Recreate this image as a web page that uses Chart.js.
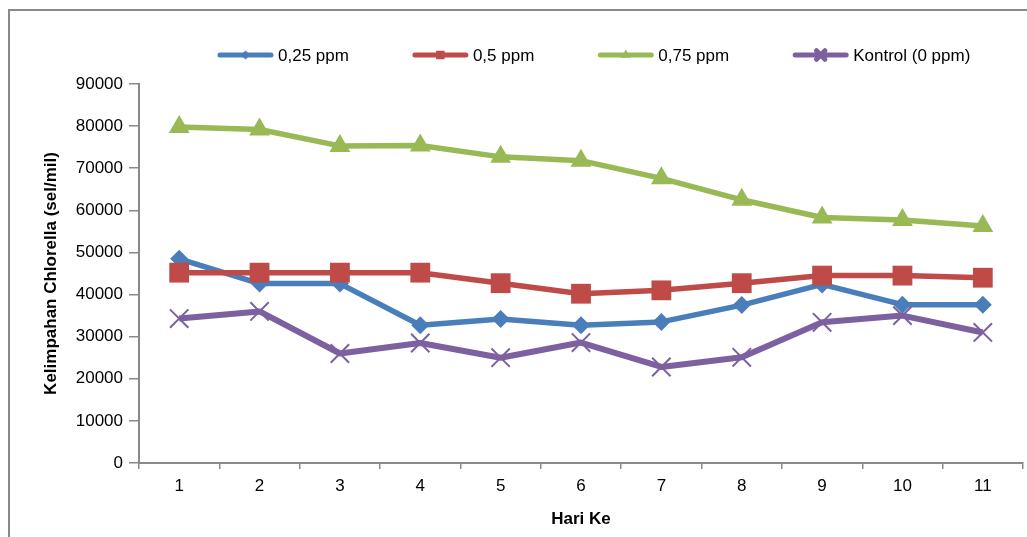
<!DOCTYPE html>
<html>
<head>
<meta charset="utf-8">
<script src="https://cdn.jsdelivr.net/npm/chart.js@4/dist/chart.umd.min.js"></script>
<style>
  html, body { margin: 0; padding: 0; background: #fff; overflow: hidden; }
  #wrap { position: relative; width: 1027px; height: 537px; }
  #frame {
    position: absolute; left: 8px; top: 9px; width: 1200px; height: 700px;
    border-left: 2px solid #898989; border-top: 2px solid #898989;
    pointer-events: none;
  }
  canvas { position: absolute; left: 0; top: 0; }
</style>
</head>
<body>
<div id="wrap">
  <canvas id="c" width="1027" height="537"></canvas>
  <div id="frame"></div>
</div>
<script>
// Hari ke-1 .. ke-11
const days = ['1', '2', '3', '4', '5', '6', '7', '8', '9', '10', '11'];

// Kelimpahan Chlorella (sel/mil) per perlakuan
const ppm025 = [48500, 42600, 42600, 32700, 34200, 32700, 33500, 37500, 42400, 37600, 37600];
const ppm05 = [45200, 45200, 45200, 45200, 42700, 40200, 41000, 42700, 44500, 44500, 44000];
const ppm075 = [79800, 79200, 75300, 75400, 72700, 71800, 67600, 62500, 58300, 57700, 56300];
const kontrol = [34300, 36000, 26000, 28500, 25000, 28600, 22800, 25100, 33400, 35000, 31000];

const seriesLabels = ['0,25 ppm', '0,5 ppm', '0,75 ppm', 'Kontrol (0 ppm)'];

// y-axis tick range
const yMin = 0;
const yMax = 90000;
const yStep = 10000;

const FONT = '"Liberation Sans", Arial, sans-serif';
const AXIS_GRAY = '#898989';

// Legend row: line with a small marker, then the label
const legendPlugin = {
  id: 'rowLegend',
  afterDraw(chart) {
    const ctx = chart.ctx;
    const y = 55;
    let x = 218;
    ctx.save();
    ctx.font = '17px ' + FONT;
    ctx.textBaseline = 'middle';
    ctx.textAlign = 'left';
    chart.data.datasets.forEach((ds) => {
      ctx.strokeStyle = ds.borderColor;
      ctx.lineWidth = 5;
      ctx.lineCap = 'round';
      ctx.beginPath();
      ctx.moveTo(x + 2, y);
      ctx.lineTo(x + 53, y);
      ctx.stroke();
      ctx.fillStyle = ds.pointBackgroundColor;
      ctx.strokeStyle = ds.pointBorderColor;
      Chart.helpers.drawPoint(ctx, {
        pointStyle: ds.pointStyle,
        radius: ds.legendRadius,
        borderWidth: ds.legendBorder,
        rotation: 0
      }, x + 27.5, y);
      ctx.fillStyle = '#000';
      ctx.fillText(ds.label, x + 60, y + 1);
      x += 60 + ctx.measureText(ds.label).width + 64;
    });
    ctx.restore();
  }
};

const data = {
  labels: days,
  datasets: [
    {
      label: seriesLabels[0], data: ppm025,
      borderColor: '#4A7EBB', backgroundColor: '#4A7EBB',
      pointBackgroundColor: '#4A7EBB', pointBorderColor: '#4A7EBB',
      pointStyle: 'rectRot', pointRadius: 9, pointBorderWidth: 0,
      legendRadius: 4.5, legendBorder: 0,
      borderWidth: 5.5, order: 4
    },
    {
      label: seriesLabels[1], data: ppm05,
      borderColor: '#BE4B48', backgroundColor: '#BE4B48',
      pointBackgroundColor: '#BE4B48', pointBorderColor: '#BE4B48',
      pointStyle: 'rect', pointRadius: 14, pointBorderWidth: 0,
      legendRadius: 6, legendBorder: 0,
      borderWidth: 5.5, order: 3
    },
    {
      label: seriesLabels[2], data: ppm075,
      borderColor: '#98B954', backgroundColor: '#98B954',
      pointBackgroundColor: '#98B954', pointBorderColor: '#98B954',
      pointStyle: 'triangle', pointRadius: 12, pointBorderWidth: 0,
      legendRadius: 5.5, legendBorder: 0,
      borderWidth: 5.5, order: 2
    },
    {
      label: seriesLabels[3], data: kontrol,
      borderColor: '#7D60A0', backgroundColor: '#7D60A0',
      pointBackgroundColor: '#7D60A0', pointBorderColor: '#7D60A0',
      pointStyle: 'crossRot', pointRadius: 13, pointBorderWidth: 2,
      legendRadius: 6, legendBorder: 1.2,
      borderWidth: 6, order: 1
    }
  ]
};

new Chart(document.getElementById('c'), {
  type: 'line',
  data: data,
  plugins: [legendPlugin],
  options: {
    responsive: false,
    devicePixelRatio: 1,
    animation: false,
    layout: { autoPadding: false, padding: { top: 84, right: 4, bottom: 0, left: 0 } },
    elements: { line: { tension: 0, capBezierPoints: false, borderJoinStyle: 'round' } },
    plugins: {
      legend: { display: false },
      tooltip: { enabled: false }
    },
    scales: {
      x: {
        type: 'category',
        offset: true,
        afterFit(scale) {
          scale.height = 74;
          scale.paddingLeft = 0;
          scale.paddingRight = 0;
        },
        grid: {
          offset: true, drawOnChartArea: false, drawTicks: true,
          tickLength: 6, color: AXIS_GRAY, lineWidth: 1.5
        },
        border: { display: true, color: AXIS_GRAY, width: 2 },
        ticks: {
          color: '#000', padding: 7, maxRotation: 0, autoSkip: false,
          font: { family: FONT, size: 17 }
        },
        title: {
          display: true, text: 'Hari Ke', color: '#000',
          font: { family: FONT, size: 17, weight: 'bold' },
          padding: { top: 4, bottom: 7 }
        }
      },
      y: {
        min: yMin, max: yMax,
        afterFit(scale) { scale.width = 139; },
        grid: {
          drawOnChartArea: false, drawTicks: true,
          tickLength: 10, color: AXIS_GRAY, lineWidth: 1.5
        },
        border: { display: true, color: AXIS_GRAY, width: 2 },
        ticks: {
          stepSize: yStep, color: '#000', padding: 6,
          font: { family: FONT, size: 17 },
          callback: (v) => String(v)
        },
        title: {
          display: true, text: 'Kelimpahan Chlorella (sel/mil)', color: '#000',
          font: { family: FONT, size: 17, weight: 'bold' },
          padding: { top: 41, bottom: 0 }
        }
      }
    }
  }
});
</script>
</body>
</html>
